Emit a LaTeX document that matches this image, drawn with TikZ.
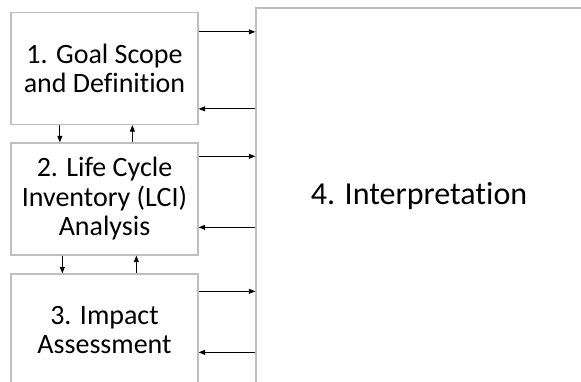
\documentclass[tikz,border=0pt]{standalone}
\usepackage{fontspec}
\setmainfont[Ligatures=NoCommon]{Carlito}
\usetikzlibrary{arrows.meta}
\definecolor{frame}{RGB}{191, 191, 191}

\tikzset{
  stage/.style={draw=frame, line width=1.3pt, align=center, inner sep=0pt,
    minimum width=187pt, minimum height=112pt,
    font=\fontsize{28}{29.5}\selectfont},
  arr/.style={->, >={Triangle[length=6.5pt, width=5pt]}, line width=0.8pt}
}

\begin{document}
\begin{tikzpicture}[x=1pt, y=1pt]
  \useasboundingbox (0, 0) rectangle (581, 382);
  \clip (0, 0) rectangle (581, 382);

  \node[stage] (goal) at (104.5, 313.5) {1. Goal Scope\\and Definition};
  \node[stage] (lci) at (104.5, 183) {2. Life Cycle\\Inventory (LCI)\\Analysis};
  \node[stage] (impact) at (104.5, 52) {3. Impact\\Assessment};
  \node[stage, minimum width=326pt, minimum height=376pt,
    font=\fontsize{32}{36}\selectfont] (interp) at (419, 186) {4. Interpretation};

  % stages to interpretation and back
  \foreach \src/\dout/\dback in {goal/-20/-97, lci/-14/-85, impact/-18/-79} {
    \draw[arr] ([yshift=\dout pt]\src.north east)
      -- ([yshift=\dout pt]\src.north east -| interp.west);
    \draw[arr] ([yshift=\dback pt]\src.north east -| interp.west)
      -- ([yshift=\dback pt]\src.north east);
  }

  % between the stages
  \draw[arr] ([xshift=49.5pt]goal.south west) -- ([xshift=49.5pt]goal.south west |- lci.north);
  \draw[arr] ([xshift=122pt]lci.north west) -- ([xshift=122pt]lci.north west |- goal.south);
  \draw[arr] ([xshift=52pt]lci.south west) -- ([xshift=52pt]lci.south west |- impact.north);
  \draw[arr] ([xshift=126pt]impact.north west) -- ([xshift=126pt]impact.north west |- lci.south);
\end{tikzpicture}
\end{document}
